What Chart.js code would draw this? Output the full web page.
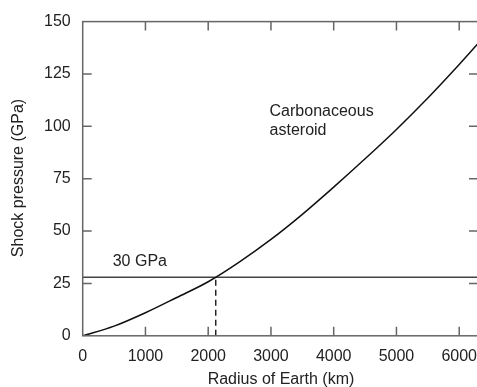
<!DOCTYPE html>
<html>
<head>
<meta charset="utf-8">
<script src="https://cdn.jsdelivr.net/npm/chart.js@4.4.1/dist/chart.umd.min.js"></script>
<style>
  html, body { margin: 0; padding: 0; background: #fff; overflow: hidden; }
  #wrap { width: 488px; height: 387px; }
</style>
</head>
<body>
<div id="wrap"><canvas id="chart"></canvas></div>
<script>
// curve: radius (km) vs shock pressure (GPa)
const radius = [0, 500, 1000, 1500, 2000, 2500, 3000, 3500, 4000, 4500, 5000, 5500, 6000, 6300];
const pressure = [0, 4.6, 11, 18.3, 25.8, 35.3, 46, 58, 71, 84.5, 98.5, 113.5, 129.5, 139.5];
const xTicks = [0, 1000, 2000, 3000, 4000, 5000, 6000];
const yTicks = [0, 25, 50, 75, 100, 125, 150];
const threshold = 28;       // the "30 GPa" line
const crossRadius = 2120;   // where curve meets it
const xMax = 6300;

const axisGrey = '#666';
const font = "'Liberation Sans', Arial, sans-serif";

const curve = radius.map((r, i) => ({ x: r, y: pressure[i] }));

// frame, inward tick marks, axis titles and labels
const framePlugin = {
    id: 'frame',
    afterDatasetsDraw(c) {
        const ctx = c.ctx, a = c.chartArea;
        const xs = c.scales.x, ys = c.scales.y;
        ctx.save();
        ctx.strokeStyle = axisGrey;
        ctx.lineWidth = 1.5;
        ctx.strokeRect(a.left, a.top, a.right - a.left, a.bottom - a.top);
        ctx.beginPath();
        xTicks.forEach(v => {
            const px = xs.getPixelForValue(v);
            if (v === 0) return;
            ctx.moveTo(px, a.bottom); ctx.lineTo(px, a.bottom - 9);
            ctx.moveTo(px, a.top); ctx.lineTo(px, a.top + 9);
        });
        yTicks.forEach(v => {
            const py = ys.getPixelForValue(v);
            if (v === 0 || v === 150) return;
            ctx.moveTo(a.left, py); ctx.lineTo(a.left + 9, py);
            ctx.moveTo(a.right, py); ctx.lineTo(a.right - 9, py);
        });
        ctx.stroke();

        ctx.fillStyle = '#222';
        ctx.font = '16px ' + font;
        ctx.textAlign = 'left';
        ctx.textBaseline = 'alphabetic';
        ctx.fillText('30 GPa', xs.getPixelForValue(478), ys.getPixelForValue(33.3));
        ctx.fillText('Carbonaceous', xs.getPixelForValue(2978), ys.getPixelForValue(104.8));
        ctx.fillText('asteroid', xs.getPixelForValue(2978), ys.getPixelForValue(95.7));

        ctx.textAlign = 'center';
        ctx.textBaseline = 'middle';
        ctx.fillText('Radius of Earth (km)', 281, 380);
        ctx.translate(19, 178);
        ctx.rotate(-Math.PI / 2);
        ctx.fillText('Shock pressure (GPa)', 0, 0);
        ctx.restore();
    }
};

new Chart(document.getElementById('chart'), {
    type: 'scatter',
    data: {
        datasets: [
            {
                data: curve,
                showLine: true,
                borderColor: '#111',
                borderWidth: 1.5,
                pointRadius: 0,
                cubicInterpolationMode: 'monotone'
            },
            {
                data: [{ x: 0, y: threshold }, { x: xMax, y: threshold }],
                showLine: true,
                borderColor: '#444',
                borderWidth: 1.5,
                pointRadius: 0
            },
            {
                data: [{ x: crossRadius, y: 0 }, { x: crossRadius, y: threshold }],
                showLine: true,
                borderColor: '#222',
                borderWidth: 1.5,
                borderDash: [6, 4],
                pointRadius: 0
            }
        ]
    },
    options: {
        responsive: true,
        maintainAspectRatio: false,
        animation: false,
        layout: { padding: { top: 11, right: 0, left: 32, bottom: 10 } },
        plugins: { legend: { display: false }, tooltip: { enabled: false } },
        scales: {
            x: {
                type: 'linear',
                min: 0,
                max: xMax,
                afterBuildTicks: s => { s.ticks = xTicks.map(v => ({ value: v })); },
                grid: { display: false, drawTicks: false },
                border: { display: false },
                ticks: { color: '#222', font: { family: font, size: 16 }, padding: 11, maxRotation: 0, callback: v => String(v) }
            },
            y: {
                min: 0,
                max: 150,
                afterBuildTicks: s => { s.ticks = yTicks.map(v => ({ value: v })); },
                grid: { display: false, drawTicks: false },
                border: { display: false },
                ticks: { color: '#222', font: { family: font, size: 16 }, padding: 12, callback: v => String(v) }
            }
        }
    },
    plugins: [framePlugin]
});
</script>
</body>
</html>
